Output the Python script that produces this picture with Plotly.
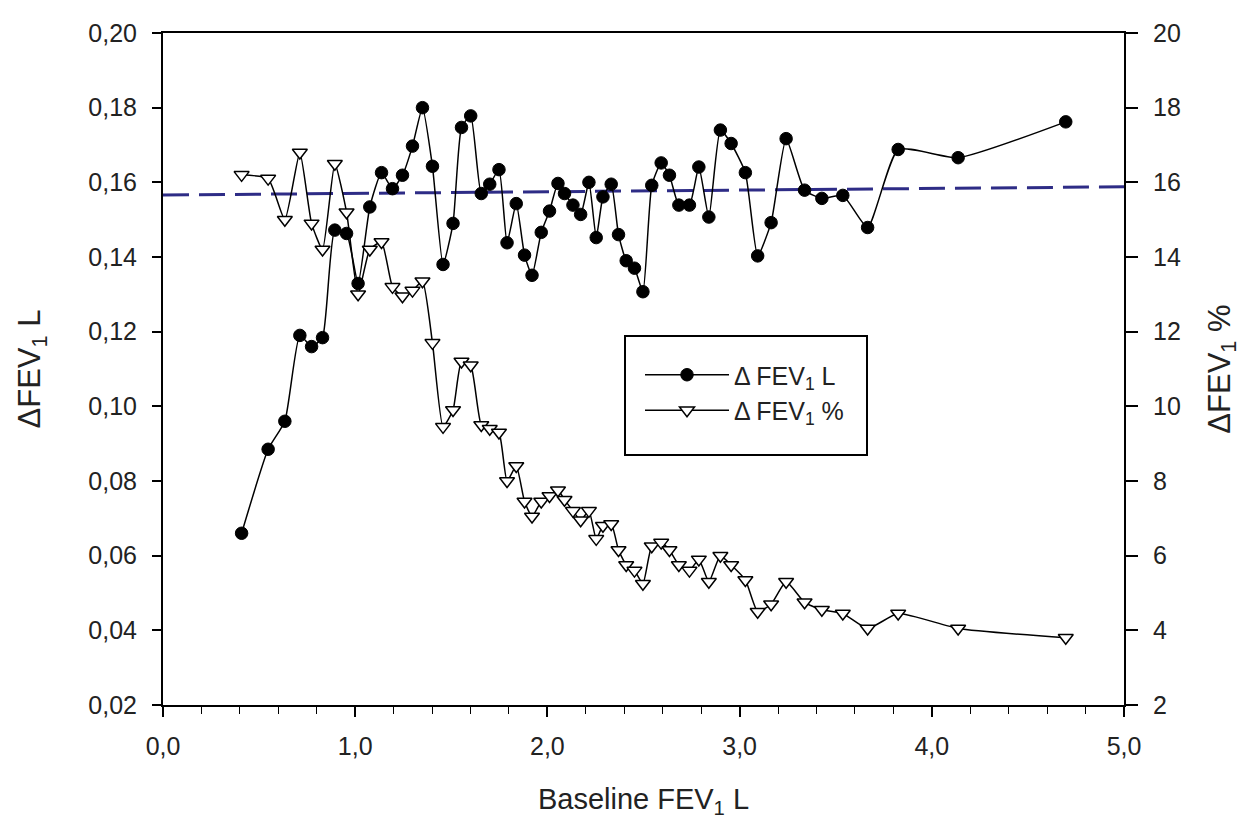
import plotly.graph_objects as go

# Baseline FEV1 (L) bins
baseline = [0.409, 0.547, 0.634, 0.712, 0.773, 0.830, 0.894, 0.955, 1.015, 1.076,
            1.137, 1.194, 1.246, 1.298, 1.350, 1.402, 1.457, 1.509, 1.553, 1.601,
            1.656, 1.700, 1.748, 1.790, 1.838, 1.881, 1.920, 1.968, 2.011, 2.055,
            2.089, 2.133, 2.173, 2.216, 2.254, 2.289, 2.332, 2.370, 2.410, 2.453,
            2.497, 2.543, 2.592, 2.635, 2.684, 2.739, 2.788, 2.840, 2.900, 2.956,
            3.030, 3.094, 3.164, 3.242, 3.338, 3.428, 3.537, 3.666, 3.825, 4.137,
            4.697]

# Delta FEV1 in litres (left axis)
delta_L = [0.066, 0.0885, 0.096, 0.119, 0.116, 0.1184, 0.1472, 0.1463, 0.1329, 0.1534,
           0.1626, 0.1583, 0.1619, 0.1697, 0.180, 0.1643, 0.138, 0.149, 0.1747, 0.1778,
           0.157, 0.1595, 0.1634, 0.1438, 0.1543, 0.1405, 0.1351, 0.1466, 0.1523, 0.1597,
           0.157, 0.1539, 0.1514, 0.160, 0.1452, 0.1561, 0.1595, 0.146, 0.139, 0.137,
           0.1307, 0.1592, 0.1652, 0.1619, 0.1539, 0.1539, 0.1641, 0.1507, 0.174, 0.1704,
           0.1626, 0.1403, 0.1492, 0.1717, 0.1579, 0.1557, 0.1565, 0.1479, 0.1688, 0.1666,
           0.1762]

# Delta FEV1 in percent (right axis)
delta_pct = [16.2, 16.1, 15.0, 16.8, 14.9, 14.2, 16.5, 15.2, 13.0, 14.2,
             14.4, 13.2, 12.95, 13.1, 13.35, 11.7, 9.45, 9.9, 11.2, 11.1,
             9.5, 9.4, 9.3, 8.0, 8.4, 7.45, 7.05, 7.45, 7.6, 7.75,
             7.5, 7.2, 6.95, 7.2, 6.45, 6.8, 6.85, 6.15, 5.75, 5.6,
             5.25, 6.25, 6.35, 6.15, 5.75, 5.6, 5.9, 5.3, 6.0, 5.75,
             5.35, 4.5, 4.7, 5.3, 4.75, 4.55, 4.45, 4.05, 4.45, 4.05,
             3.8]

# Regression line of delta L
reg_x = [0.0, 5.0]
reg_y = [0.1566, 0.1588]

FONT = "Liberation Sans, Arial, sans-serif"

fig = go.Figure()

fig.add_trace(go.Scatter(
    x=reg_x, y=reg_y, mode="lines", showlegend=False,
    line=dict(color="#2E2C86", width=3, dash="26px,10px"),
    hoverinfo="skip"))

fig.add_trace(go.Scatter(
    x=baseline, y=delta_L, mode="lines+markers",
    name="Δ FEV<sub>1</sub> L",
    line=dict(color="black", width=1.5, shape="spline", smoothing=0.5),
    marker=dict(symbol="circle", size=12.5, color="black",
                line=dict(color="black", width=1))))

fig.add_trace(go.Scatter(
    x=baseline, y=delta_pct, mode="lines+markers", yaxis="y2",
    name="Δ FEV<sub>1</sub> %",
    line=dict(color="black", width=1.5, shape="spline", smoothing=0.5),
    marker=dict(symbol="triangle-down", size=13, color="white",
                line=dict(color="black", width=1.5))))

# legend frame (decorative box, paper coordinates)
fig.add_shape(type="rect", xref="paper", yref="paper",
              x0=(625 - 163) / 961, x1=(867 - 163) / 961,
              y0=1 - (455 - 33) / 672, y1=1 - (336 - 33) / 672,
              line=dict(color="black", width=2), fillcolor="rgba(0,0,0,0)",
              layer="above")

fig.update_layout(
    width=1252, height=821,
    margin=dict(l=163, r=128, t=33, b=116),
    paper_bgcolor="white", plot_bgcolor="white",
    separators=",.",
    font=dict(family=FONT, size=25, color="#222222"),
    xaxis=dict(
        range=[0, 5], dtick=1.0, tick0=0, tickformat=".1f",
        showline=True, linecolor="black", linewidth=2, mirror=True,
        ticks="outside", ticklen=10, tickwidth=1.5, tickcolor="black",
        minor=dict(dtick=0.2, ticks="outside", ticklen=7, tickwidth=1, tickcolor="black"),
        showgrid=False, zeroline=False, ticklabelstandoff=8,
        title=dict(text="Baseline FEV<sub>1</sub> L", font=dict(size=29), standoff=30)),
    yaxis=dict(
        range=[0.02, 0.20], dtick=0.02, tick0=0.02, tickformat=".2f",
        showline=True, linecolor="black", linewidth=2,
        ticks="outside", ticklen=9, tickwidth=1.5, tickcolor="black",
        showgrid=False, zeroline=False, ticklabelstandoff=10,
        title=dict(text="ΔFEV<sub>1</sub> L", font=dict(size=31), standoff=38)),
    yaxis2=dict(
        range=[2, 20], dtick=2, tick0=2, overlaying="y", side="right",
        showline=True, linecolor="black", linewidth=2,
        ticks="outside", ticklen=12, tickwidth=1.5, tickcolor="black",
        showgrid=False, zeroline=False, ticklabelstandoff=10,
        title=dict(text="ΔFEV<sub>1</sub> %", font=dict(size=31), standoff=28)),
    legend=dict(
        x=(640 - 163) / 961, y=1 - (352 - 33) / 672, xanchor="left", yanchor="top",
        borderwidth=0, bgcolor="rgba(0,0,0,0)",
        font=dict(size=25), itemwidth=84, tracegroupgap=10),
)

fig.write_html("out.html", config={"displayModeBar": False},
               post_script="document.body.style.margin='0';")
